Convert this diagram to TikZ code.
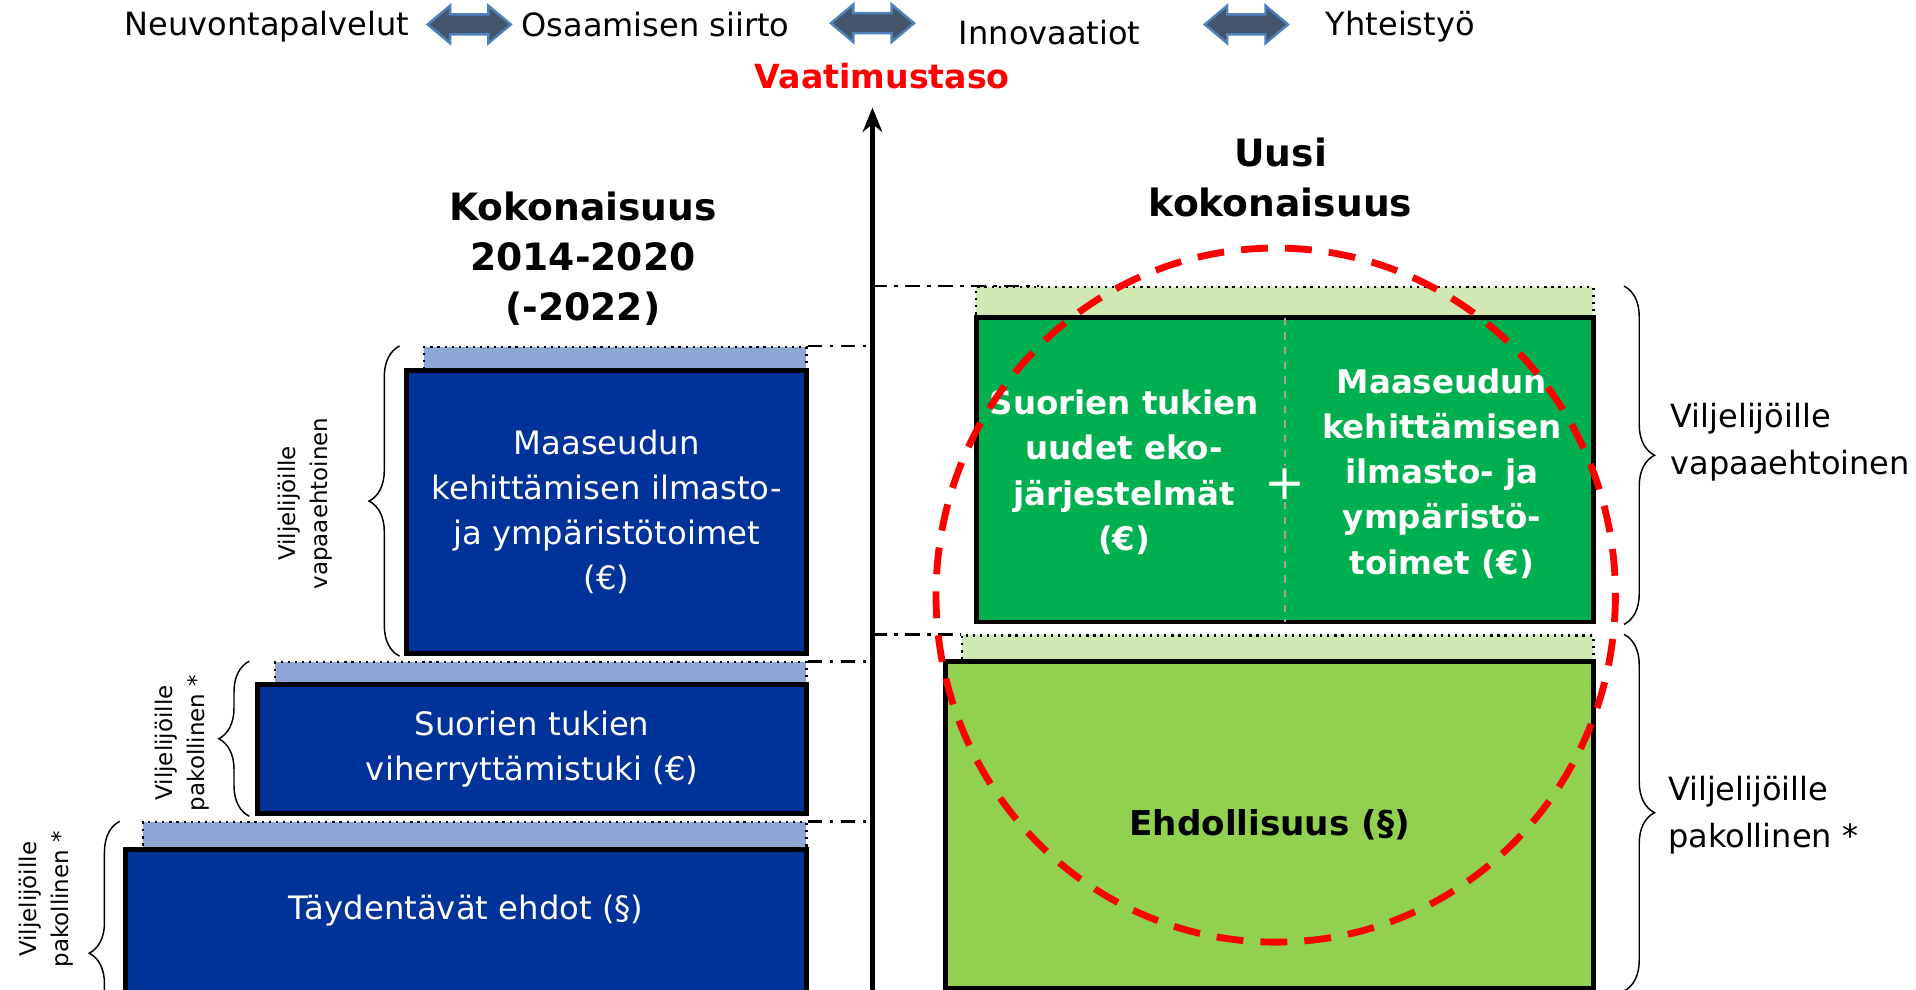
\documentclass[tikz,border=0pt]{standalone}
\usepackage{xcolor}
\usepackage{fontspec}
\setmainfont{DejaVu Sans}
\usepackage{tikz}
\usetikzlibrary{shapes,arrows.meta,positioning,decorations.pathreplacing}
\definecolor{boxblue}{HTML}{003399}
\definecolor{stripblue}{HTML}{8EA6D3}
\definecolor{ecogreen}{HTML}{00B050}
\definecolor{limegreen}{HTML}{92D050}
\definecolor{stripgreen}{HTML}{D0E8B2}
\definecolor{arrowfill}{HTML}{44546A}
\definecolor{arrowedge}{HTML}{4F81BD}
\tikzset{
    toptext/.style={font=\fontsize{13.1}{16}\selectfont},
    linkarrow/.style={double arrow, draw=arrowedge, fill=arrowfill, line width=1pt,
        minimum height=34pt, inner xsep=0pt, inner ysep=3.6pt,
        double arrow head extend=3.6pt, double arrow tip angle=80},
    oldbox/.style={draw=black, line width=2pt, fill=boxblue, text=white, align=center,
        inner sep=0pt, font=\fontsize{13.2}{18.5}\selectfont},
    oldstrip/.style={draw=black, dotted, line width=0.9pt, fill=stripblue, inner sep=0pt},
    newstrip/.style={oldstrip, fill=stripgreen},
    levelline/.style={line width=1.1pt, dash pattern=on 6pt off 3pt on 1.5pt off 3pt},
    bracedeco/.style={decorate, decoration={brace, amplitude=12.5pt}, line width=0.6pt},
    sidelabel/.style={align=center, font=\fontsize{9.4}{13}\selectfont},
    rightlabel/.style={anchor=west, align=left, font=\fontsize{13.1}{19}\selectfont},
    title/.style={align=center, font=\bfseries\fontsize{15.4}{20.5}\selectfont},
    boldwhite/.style={align=center, text=white, font=\bfseries\fontsize{13.3}{18.5}\selectfont}
}

\begin{document}
\begin{tikzpicture}[x=0.5pt, y=-0.5pt]
    \useasboundingbox (0,0) rectangle (1568,810);

    % Top row of activities
    \node[toptext] (neuvonta) at (218.5,22) {Neuvontapalvelut};
    \node[linkarrow] (nuoli1) at (384,20) {};
    \node[toptext] (osaaminen) at (536.5,20) {Osaamisen siirto};
    \node[linkarrow] (nuoli2) at (714,19) {};
    \node[toptext] (innovaatiot) at (859,27) {Innovaatiot};
    \node[linkarrow] (nuoli3) at (1020,20) {};
    \node[toptext] (yhteistyo) at (1146,22) {Yhteistyö};

    % Axis
    \coordinate (axisbot) at (714,815);
    \coordinate (axistop) at (714,88);
    \draw[line width=2pt, -{Stealth[length=10pt,width=8pt]}] (axisbot) -- (axistop);
    \node[text=red, font=\bfseries\fontsize{13.6}{16}\selectfont] (vaatimus) at (722,62) {Vaatimustaso};

    % Titles
    \node[title] (oldtitle) at (477,212) {Kokonaisuus\\2014-2020\\(-2022)};
    \node[title] (newtitle) at (1048,145) {Uusi\\kokonaisuus};

    % Old set, 2014-2020
    \node[oldstrip, minimum width=156.5pt, minimum height=9.5pt] (stripL1) at (503.5,293.5) {};
    \node[oldbox, minimum width=163.5pt, minimum height=116pt] (maasL) at (496.5,419)
        {Maaseudun\\kehittämisen ilmasto-\\ja ympäristötoimet\\(€)};
    \node[oldstrip, minimum width=217.5pt, minimum height=9pt] (stripL2) at (442.5,551) {};
    \node[oldbox, minimum width=224.5pt, minimum height=53pt] (viherL) at (435.5,613)
        {Suorien tukien\\viherryttämistuki (€)};
    \node[oldstrip, minimum width=271.5pt, minimum height=11pt] (stripL3) at (388.5,684) {};
    \node[oldbox, minimum width=278.5pt, minimum height=67.5pt] (taydentL) at (381.5,762.5) {};
    \node[oldbox, draw=none, fill=none] (taydentText) at (381.5,745) {Täydentävät ehdot (§)};

    \draw[levelline] (stripL1.north east) -- (stripL1.north east -| axisbot);
    \draw[levelline] (stripL2.north east) -- (stripL2.north east -| axisbot);
    \draw[levelline] (stripL3.north east) -- (stripL3.north east -| axisbot);

    % Braces on the left
    \draw[bracedeco] ([xshift=-2pt]maasL.south west) -- ([xshift=-2pt]maasL.south west |- stripL1.north);
    \node[sidelabel, rotate=90] (vapaaL) at (250,412) {Viljelijöille\\vapaaehtoinen};
    \draw[bracedeco] ([xshift=-2.5pt]viherL.south west) -- ([xshift=-2.5pt]viherL.south west |- stripL2.north);
    \node[sidelabel, rotate=90] (pakollinenL2) at (149,608) {Viljelijöille\\pakollinen *};
    \draw[bracedeco] ([xshift=-1.5pt,yshift=-28pt]taydentL.south west) -- ([xshift=-1.5pt]taydentL.south west |- stripL3.north);
    \node[sidelabel, rotate=90] (pakollinenL3) at (38,736) {Viljelijöille\\pakollinen *};

    % New set
    \node[newstrip, minimum width=252.5pt, minimum height=12.5pt] (stripR1) at (1051.5,247.5) {};
    \node[oldbox, fill=ecogreen, minimum width=252.5pt, minimum height=124.5pt] (ekoR) at (1051.5,384.5) {};
    \node[boldwhite] (ekoText) at (920,386.5) {Suorien tukien\\uudet eko-\\järjestelmät\\(€)};
    \node[boldwhite] (ymparText) at (1180,387.5) {Maaseudun\\kehittämisen\\ilmasto- ja\\ympäristö-\\toimet (€)};
    \node[text=white, font=\fontsize{20}{20}\selectfont, inner sep=1pt] (plus) at (1051.5,396) {+};
    \draw[black!35, dashed, line width=0.6pt] ([yshift=-1pt]ekoR.north) -- (plus.north);
    \draw[black!35, dashed, line width=0.6pt] (plus.south) -- ([yshift=1pt]ekoR.south);

    \node[newstrip, minimum width=258.5pt, minimum height=10.5pt] (stripR2) at (1045.5,530.5) {};
    \node[oldbox, fill=limegreen, text=black, minimum width=265pt, minimum height=134pt,
        font=\bfseries\fontsize{14}{18}\selectfont] (ehdR) at (1039,675) {Ehdollisuus (§)};

    \draw[levelline] (stripR1.north west -| axisbot) -- ([xshift=26pt]stripR1.north west);
    \draw[levelline] (stripR2.north west -| axisbot) -- (stripR2.north west);

    % Braces on the right
    \draw[bracedeco] ([xshift=11.5pt]ekoR.south east |- stripR1.north) -- ([xshift=11.5pt]ekoR.south east);
    \node[rightlabel] (vapaaR) at (1360,362) {Viljelijöille\\vapaaehtoinen};
    \draw[bracedeco] ([xshift=11.5pt]ehdR.south east |- stripR2.north) -- ([xshift=11.5pt]ehdR.south east);
    \node[rightlabel] (pakollinenR) at (1358,667) {Viljelijöille\\pakollinen *};

    % Red ring
    \draw[red, line width=2.8pt, dash pattern=on 11pt off 7pt] (1044,487) ellipse [x radius=278, y radius=284];
\end{tikzpicture}
\end{document}
